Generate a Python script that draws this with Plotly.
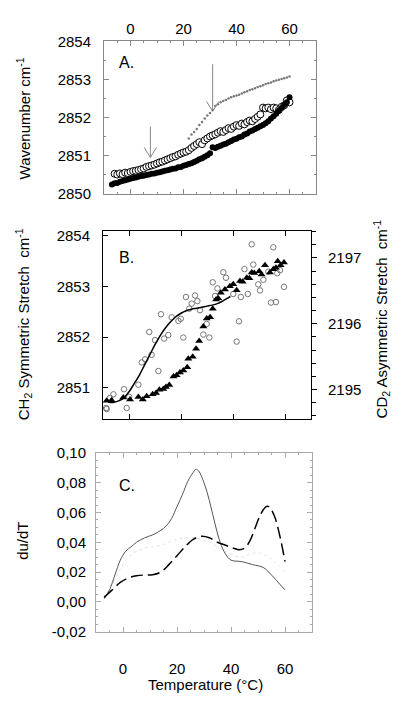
import plotly.graph_objects as go

# ---------------- Panel A data ----------------
a_filled_t = list(range(-7, 61))
a_filled = [2850.24, 2850.27, 2850.28, 2850.31, 2850.33, 2850.35, 2850.37, 2850.39,
            2850.41, 2850.42, 2850.44, 2850.46, 2850.47, 2850.49, 2850.50, 2850.52,
            2850.53, 2850.55, 2850.56, 2850.58, 2850.60, 2850.61, 2850.63, 2850.65,
            2850.66, 2850.69, 2850.70, 2850.73, 2850.75, 2850.78, 2850.80, 2850.83,
            2850.86, 2850.90, 2850.93, 2850.97, 2851.01, 2851.06, 2851.22, 2851.20,
            2851.23, 2851.26, 2851.29, 2851.31, 2851.35, 2851.38, 2851.42, 2851.44,
            2851.48, 2851.50, 2851.55, 2851.58, 2851.63, 2851.66, 2851.70, 2851.73,
            2851.77, 2851.80, 2851.85, 2851.90, 2851.97, 2852.03, 2852.10, 2852.18,
            2852.25, 2852.33, 2852.40, 2852.53]

a_open_t = list(range(-6, 61))
a_open = [2850.52, 2850.50, 2850.53, 2850.51, 2850.55, 2850.54, 2850.57, 2850.59,
          2850.60, 2850.62, 2850.64, 2850.66, 2850.70, 2850.72, 2850.74, 2850.76,
          2850.79, 2850.82, 2850.84, 2850.87, 2850.90, 2850.93, 2850.96, 2850.98,
          2851.02, 2851.05, 2851.08, 2851.10, 2851.14, 2851.20, 2851.25, 2851.30,
          2851.35, 2851.30, 2851.40, 2851.45, 2851.50, 2851.53, 2851.56, 2851.60,
          2851.64, 2851.62, 2851.67, 2851.72, 2851.70, 2851.76, 2851.80, 2851.78,
          2851.84, 2851.82, 2851.88, 2851.92, 2851.90, 2851.96, 2852.02, 2852.08,
          2852.26, 2852.24, 2852.26, 2852.22, 2852.26, 2852.24, 2852.20, 2852.28,
          2852.32, 2852.45, 2852.40]

a_dot_t = list(range(22, 61))
a_dot = [2851.45, 2851.55, 2851.62, 2851.70, 2851.80, 2851.88, 2851.97, 2852.05,
         2852.12, 2852.20, 2852.30, 2852.35, 2852.40, 2852.43, 2852.46, 2852.50,
         2852.53, 2852.56, 2852.58, 2852.60, 2852.63, 2852.66, 2852.69, 2852.72,
         2852.74, 2852.77, 2852.80, 2852.82, 2852.85, 2852.88, 2852.90, 2852.92,
         2852.95, 2852.97, 2852.99, 2853.01, 2853.03, 2853.05, 2853.08]

# arrows in panel A: (temperature, tail value, head value)
a_arrows = [(7.5, 2851.76, 2850.95), (31.0, 2853.40, 2852.16)]

# ---------------- Panel B data ----------------
b_circ_t = [-8.8, -8.6, -7.3, -6.0, -1.9, -0.9, 0.1, 3.6, 4.9, 6.2, 8.7, 11.3, 7.8, 10.0,
            12.3, 13.5, 15.1, 16.4, 19.0, 19.9, 20.9, 21.9, 23.2, 24.1, 25.4, 26.3,
            27.3, 28.6, 29.9, 30.9, 32.2, 33.1, 34.0, 36.3, 37.3, 40.1, 41.4, 42.3,
            43.0, 44.4, 45.7, 47.2, 47.8, 49.7, 50.4, 51.7, 53.6, 54.6, 55.5, 56.5,
            57.0, 58.1, 59.6]
b_circ = [2850.60, 2850.58, 2850.80, 2850.87, 2850.97, 2850.60, 2850.82, 2851.06, 2851.50,
          2851.56, 2851.65, 2851.33, 2852.10, 2851.94, 2852.45, 2851.97, 2852.04, 2852.39,
          2852.32, 2852.36, 2851.99, 2852.79, 2852.56, 2852.66, 2852.82, 2852.71, 2852.53,
          2852.05, 2852.26, 2851.99, 2853.08, 2852.81, 2852.96, 2853.28, 2853.17, 2852.85,
          2851.91, 2852.31, 2852.79, 2853.34, 2852.85, 2853.83, 2853.43, 2853.04, 2852.92,
          2853.13, 2853.29, 2852.68, 2853.77, 2852.69, 2853.26, 2853.32, 2852.99]

b_fit_t = [-8, -6, -4, -2, 0, 2, 4, 6, 8, 10, 12, 14, 16, 18, 20, 22, 24, 26, 28, 30,
           32, 34, 36, 38, 39]
b_fit = [2850.72, 2850.71, 2850.74, 2850.80, 2850.92, 2851.08, 2851.25, 2851.45, 2851.65,
         2851.85, 2852.03, 2852.18, 2852.30, 2852.40, 2852.47, 2852.52, 2852.55, 2852.57,
         2852.59, 2852.61, 2852.63, 2852.66, 2852.71, 2852.77, 2852.80]

b_tri_t = [-8.6, -6.7, -2.2, 0.4, 3.6, 5.3, 6.8, 9.1, 10.4, 11.7, 13.2, 14.2, 15.5, 17.1,
           18.3, 19.6, 20.9, 22.4, 22.8, 24.5, 25.8, 27.0, 28.6, 29.9, 31.2, 32.2, 33.5,
           34.3, 35.3, 36.9, 38.8, 40.1, 41.4, 42.7, 43.7, 45.3, 46.3, 47.2, 48.2, 50.1,
           51.0, 52.3, 54.2, 55.5, 56.5, 57.2, 58.3, 59.6]
b_tri = [2194.83, 2194.84, 2194.88, 2194.85, 2194.89, 2194.85, 2194.90, 2194.93, 2194.95,
         2195.00, 2195.01, 2195.04, 2195.07, 2195.20, 2195.22, 2195.26, 2195.29, 2195.34,
         2195.47, 2195.50, 2195.62, 2195.74, 2195.96, 2196.08, 2196.10, 2196.23, 2196.37,
         2196.39, 2196.47, 2196.52, 2196.57, 2196.60, 2196.51, 2196.65, 2196.64, 2196.70,
         2196.69, 2196.78, 2196.77, 2196.80, 2196.75, 2196.89, 2196.78, 2196.83, 2196.85,
         2196.95, 2196.89, 2196.93]

# ---------------- Panel C data ----------------
c_solid_t = [-7, -5, -3, -1, 1, 3, 5, 8, 11, 14, 16, 18, 20, 22, 24, 26, 27, 28, 30, 32,
             34, 36, 38, 40, 44, 48, 52, 55, 58, 60]
c_solid = [0.002, 0.008, 0.018, 0.028, 0.034, 0.037, 0.040, 0.043, 0.045, 0.048, 0.051,
           0.056, 0.064, 0.072, 0.081, 0.087, 0.089, 0.088, 0.080, 0.068, 0.053, 0.040,
           0.032, 0.028, 0.027, 0.025, 0.023, 0.018, 0.012, 0.008]

c_dash_t = [-7, -4, -1, 2, 5, 8, 11, 14, 17, 20, 23, 26, 29, 32, 35, 38, 41, 43, 45, 47,
            49, 51, 53, 54, 56, 58, 60]
c_dash = [0.003, 0.008, 0.013, 0.016, 0.0175, 0.018, 0.0182, 0.020, 0.025, 0.031, 0.037,
          0.042, 0.044, 0.043, 0.040, 0.038, 0.036, 0.035, 0.036, 0.041, 0.050, 0.059,
          0.064, 0.064, 0.058, 0.045, 0.027]

c_dot_t = [-7, -4, -1, 2, 5, 8, 11, 14, 17, 20, 23, 26, 29, 32, 35, 38, 41, 44, 47, 50,
           53, 56, 60]
c_dot = [0.003, 0.012, 0.022, 0.030, 0.034, 0.036, 0.037, 0.038, 0.040, 0.042, 0.043,
         0.043, 0.042, 0.040, 0.037, 0.034, 0.031, 0.030, 0.032, 0.033, 0.031, 0.027, 0.020]

temp_ticks = [0, 20, 40, 60]
a_yticks = [2850, 2851, 2852, 2853, 2854]
b_yticks = [2851, 2852, 2853, 2854]
b_y2ticks = [2195, 2196, 2197]
c_yticks = [-0.02, 0.0, 0.02, 0.04, 0.06, 0.08, 0.10]
c_yticktext = ["-0,02", "0,00", "0,02", "0,04", "0,06", "0,08", "0,10"]

# The page body has an 8px margin, so the figure is drawn 8px in from the corner;
# size it so that its right and bottom edges meet the window edges.
OFF = 8
W, H = 400 - OFF, 701 - OFF
FONT = "Arial, Liberation Sans, sans-serif"


def dx(p):
    return (p - OFF) / W


def dy(p):
    return 1 - (p - OFF) / H


fig = go.Figure()

# Panel A
fig.add_trace(go.Scatter(x=a_dot_t, y=a_dot, mode="markers", xaxis="x", yaxis="y",
                         marker=dict(symbol="circle", size=2.5, color="#777777")))
fig.add_trace(go.Scatter(x=a_open_t, y=a_open, mode="markers", xaxis="x", yaxis="y",
                         marker=dict(symbol="circle", size=7, color="white",
                                     line=dict(color="black", width=1))))
fig.add_trace(go.Scatter(x=a_filled_t, y=a_filled, mode="markers", xaxis="x", yaxis="y",
                         marker=dict(symbol="circle", size=6, color="black")))

# Panel B
fig.add_trace(go.Scatter(x=b_circ_t, y=b_circ, mode="markers", xaxis="x2", yaxis="y2",
                         marker=dict(symbol="circle-open", size=5.5, color="#777777",
                                     line=dict(width=1))))
fig.add_trace(go.Scatter(x=b_fit_t, y=b_fit, mode="lines", xaxis="x2", yaxis="y2",
                         line=dict(color="black", width=1.5, shape="spline")))
fig.add_trace(go.Scatter(x=b_tri_t, y=b_tri, mode="markers", xaxis="x2", yaxis="y3",
                         marker=dict(symbol="triangle-up", size=7, color="black")))

# Panel C
fig.add_trace(go.Scatter(x=c_dot_t, y=c_dot, mode="lines", xaxis="x3", yaxis="y4",
                         line=dict(color="#e2e2e2", width=1, dash="dot", shape="spline")))
fig.add_trace(go.Scatter(x=c_solid_t, y=c_solid, mode="lines", xaxis="x3", yaxis="y4",
                         line=dict(color="#555555", width=1, shape="spline")))
fig.add_trace(go.Scatter(x=c_dash_t, y=c_dash, mode="lines", xaxis="x3", yaxis="y4",
                         line=dict(color="black", width=1.5, dash="12px,5px", shape="spline")))

tickfont = dict(family=FONT, size=15, color="black")

common_x = dict(range=[-10, 70], tickvals=temp_ticks, ticks="inside", ticklen=5,
                showline=True, mirror="ticks", showgrid=False, zeroline=False,
                tickfont=tickfont)

fig.update_layout(
    width=W, height=H, margin=dict(l=0, r=0, t=0, b=0),
    paper_bgcolor="white", plot_bgcolor="white", showlegend=False,
    font=dict(family=FONT, color="black"),
    xaxis=dict(common_x, domain=[dx(104), dx(316)], anchor="y", side="top",
               linecolor="#888888", tickcolor="#888888",
               minor=dict(dtick=5, ticks="inside", ticklen=2, tickcolor="#888888")),
    yaxis=dict(domain=[dy(189), dy(33)], range=[2850, 2854], tickvals=a_yticks,
               anchor="x", ticks="inside", ticklen=5, showline=True, mirror="ticks",
               linecolor="#888888", tickcolor="#888888", showgrid=False, zeroline=False,
               tickfont=tickfont, ticklabelstandoff=9,
               minor=dict(dtick=0.5, ticks="inside", ticklen=2, tickcolor="#888888")),
    xaxis2=dict(common_x, domain=[dx(103), dx(311)], anchor="y2", showticklabels=False,
                linecolor="black", tickcolor="black"),
    yaxis2=dict(domain=[dy(420), dy(227)], range=[2850.385, 2854.1], tickvals=b_yticks,
                anchor="x2", ticks="inside", ticklen=5, showline=True, mirror=True,
                linecolor="black", tickcolor="black", showgrid=False, zeroline=False,
                tickfont=tickfont, ticklabelstandoff=9),
    yaxis3=dict(overlaying="y2", side="right", anchor="x2", range=[2194.556, 2197.415],
                tickvals=b_y2ticks, ticks="outside", ticklen=5, showline=False,
                tickcolor="black", showgrid=False, zeroline=False, tickfont=tickfont,
                ticklabelstandoff=8,
                minor=dict(dtick=0.2, ticks="outside", ticklen=4, tickcolor="black")),
    xaxis3=dict(common_x, domain=[dx(96), dx(312)], anchor="y4",
                linecolor="#aaaaaa", tickcolor="#aaaaaa", ticklabelstandoff=23,
                minor=dict(dtick=5, ticks="inside", ticklen=2, tickcolor="#aaaaaa")),
    yaxis4=dict(domain=[dy(638), dy(455)], range=[-0.02, 0.10], tickvals=c_yticks,
                ticktext=c_yticktext, anchor="x3", ticks="inside", ticklen=5,
                showline=True, mirror="ticks", linecolor="#aaaaaa", tickcolor="#aaaaaa",
                showgrid=False, zeroline=False, tickfont=tickfont, ticklabelstandoff=6,
                minor=dict(dtick=0.005, ticks="inside", ticklen=2, tickcolor="#aaaaaa")),
)

# arrows drawn as a shaft plus an open V head (head half-width in degC, head length in value)
HEAD_DT, HEAD_DV = 2.3, 0.26
shapes = []
for t, tail, head in a_arrows:
    line = dict(color="#888888", width=1)
    shapes.append(dict(type="line", xref="x", yref="y", x0=t, x1=t, y0=tail, y1=head,
                       line=line))
    shapes.append(dict(type="line", xref="x", yref="y", x0=t - HEAD_DT, x1=t,
                       y0=head + HEAD_DV, y1=head, line=line))
    shapes.append(dict(type="line", xref="x", yref="y", x0=t + HEAD_DT, x1=t,
                       y0=head + HEAD_DV, y1=head, line=line))
fig.update_layout(shapes=shapes)


def note(text, x, y, size=15, angle=0):
    return dict(text=text, x=dx(x), y=dy(y), xref="paper", yref="paper",
                xanchor="center", yanchor="middle", showarrow=False, textangle=angle,
                font=dict(family=FONT, size=size, color="black"))


annotations = [
    note("A.", 127, 55, 16),
    note("B.", 127, 255, 16),
    note("C.", 127, 488, 16),
    note("Wavenumber cm<sup>-1</sup>", 23, 112, angle=-90),
    note("CH<sub>2</sub> Symmetric Stretch  cm<sup>-1</sup>", 23, 323, angle=-90),
    note("du/dT", 23, 545, angle=-90),
    note("CD<sub>2</sub> Asymmetric Stretch  cm<sup>-1</sup>", 381, 318, angle=-90),
    note("Temperature (°C)", 205, 692),
]
fig.update_layout(annotations=annotations)

fig.write_html("out.html")
